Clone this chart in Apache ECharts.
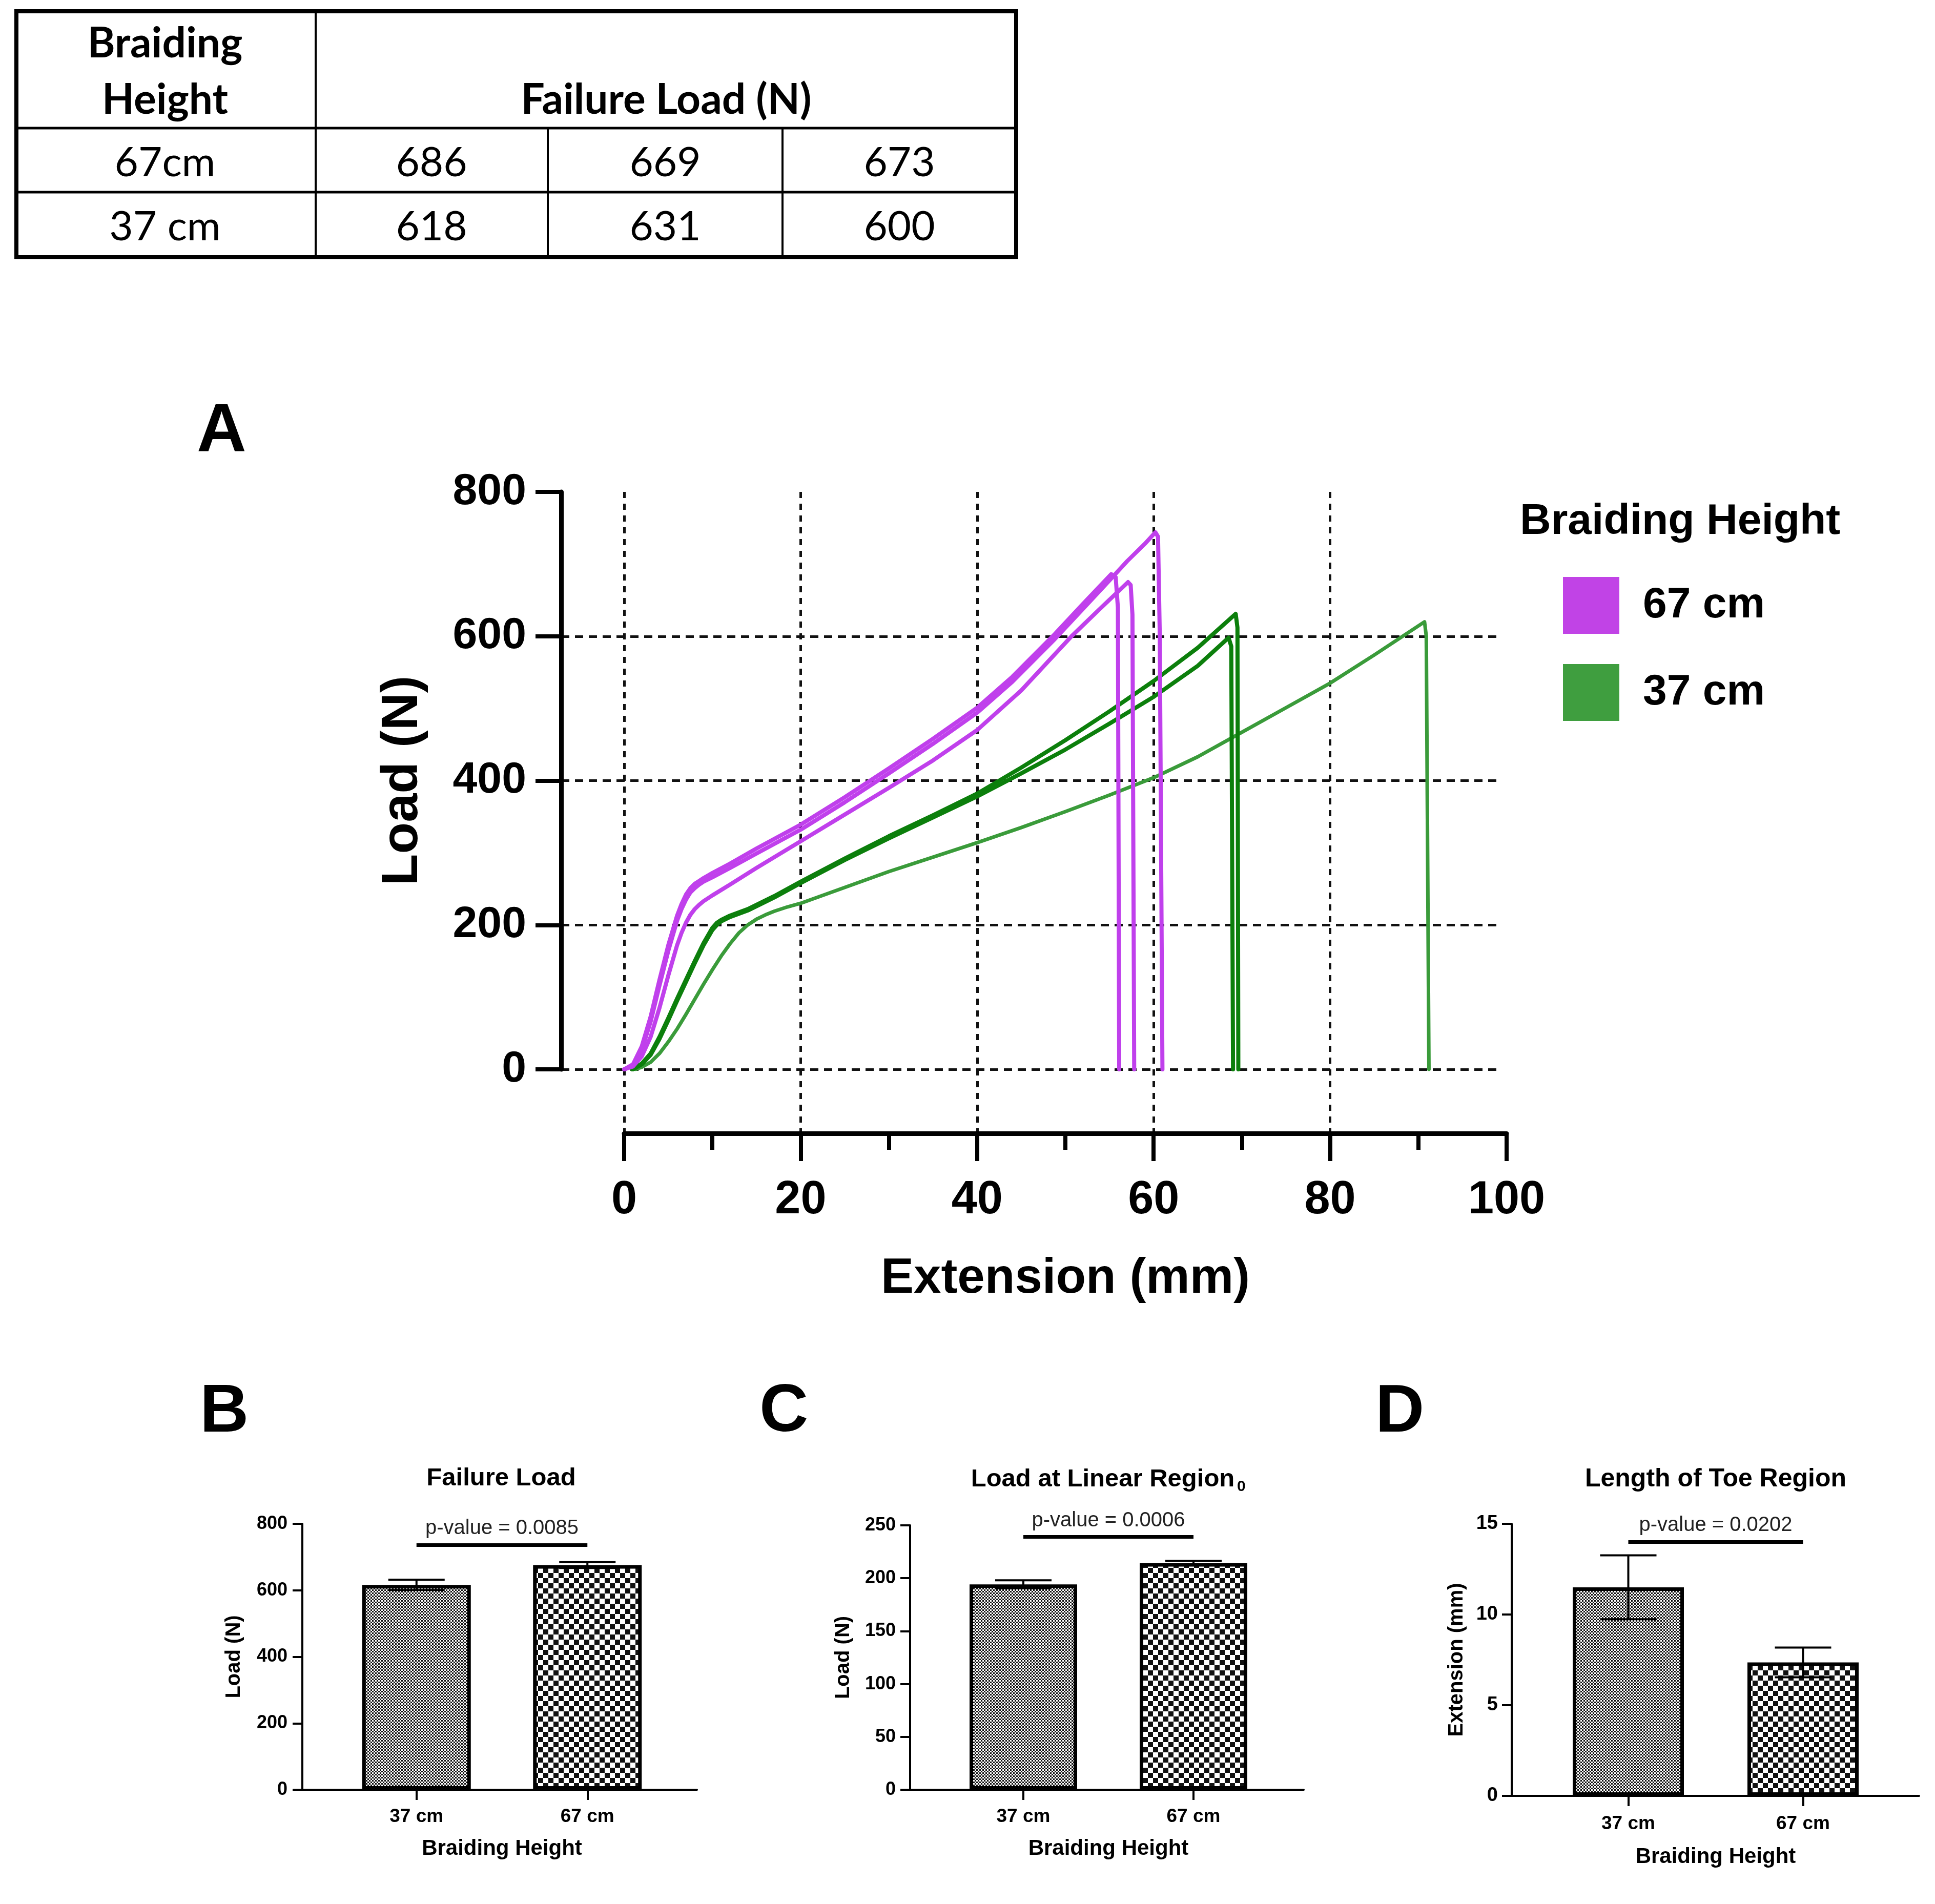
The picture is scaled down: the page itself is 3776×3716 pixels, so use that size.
<!DOCTYPE html>
<html>
<head>
<meta charset="utf-8">
<title>Braiding height - failure load</title>
<script src="https://cdn.jsdelivr.net/npm/echarts@6/dist/echarts.min.js"></script>
<style>
  html, body { margin: 0; padding: 0; background: #fff; }
  #chart { width: 3776px; height: 3716px; }
</style>
</head>
<body>
<div id="chart"></div>
<script>
// ---- table (failure load, N) ----
const tableRows = ['67cm', '37 cm'];
const failure67 = [686, 669, 673];
const failure37 = [618, 631, 600];

// ---- panel A: load vs extension curves [mm, N] ----
const curve67a = [[0,0],[1,5],[2,27],[3,66],[4,116],[5,164],[6,206],[6.5,222],[7,235],[7.5,245],[8,251],[8.5,256],[9,260],[10,266],[12,279],[15,299],[20,332],[25,370],[30,410],[35,451],[40,494],[44,537],[48.8,596],[52,638],[55.2,680],[57,704],[59,728],[60.2,744],[60.5,738],[60.7,600],[61.0,0]];
const curve67b = [[0,0],[1,7],[2,32],[3,73],[4,124],[5,172],[6,213],[6.5,229],[7,242],[7.5,251],[8,257],[8.5,261],[9,265],[10,272],[12,285],[15,306],[20,339],[25,377],[30,417],[35,458],[40,501],[44,544],[48.8,603],[52,645],[55.2,686],[55.7,682],[55.95,640],[56.1,0]];
const curve67c = [[0,0],[1,4],[2,18],[3,45],[4,85],[5,130],[6,172],[6.5,189],[7,203],[7.5,214],[8,222],[8.5,228],[9,233],[10,241],[12,256],[15,279],[20,316],[25,353],[30,390],[35,428],[40,470],[45,525],[50.7,600],[54,639],[57.1,675],[57.4,671],[57.6,630],[57.8,0]];
const curve37a = [[0.9,0],[2,8],[3,22],[4,45],[5,71],[6,98],[7,124],[8,150],[9,175],[10,196],[10.5,203],[11,207],[12,213],[14,222],[17,240],[20,260],[25,292],[30,323],[35,352],[40,382],[45,418],[50,456],[55,496],[60,538],[65,584],[69.3,631],[69.5,612],[69.6,0]];
const curve37b = [[1.0,0],[2,7],[3,20],[4,42],[5,68],[6,95],[7,121],[8,147],[9,172],[10,193],[10.5,200],[11,205],[12,211],[14,220],[17,238],[20,258],[25,290],[30,320],[35,349],[40,378],[45,410],[50,443],[55,479],[60,516],[65,559],[68.5,598],[68.8,586],[69.0,0]];
const curve37c = [[1.3,0],[2,3],[3,10],[4,22],[5,38],[6,56],[7,76],[8,97],[9,118],[10,138],[11,157],[12,174],[13,189],[14,200],[15,208],[16,214],[17,219],[18.5,225],[20,230],[25,252],[30,274],[35,294],[40,314],[45,335],[50,357],[55,380],[60,404],[65,433],[70,467],[75,501],[80,535],[85,574],[90.7,620],[90.9,600],[91.2,0]];

// ---- panels B-D ----
const barCats = ['37 cm', '67 cm'];
const linearLoad = [194.2, 214.4];
const linearSd = [3.8, 2.1];
const toeLength = [11.5, 7.36];
const toeSd = [1.76, 0.82];
const pTexts = ['p-value = 0.0085', 'p-value = 0.0006', 'p-value = 0.0202'];
const pLevels = [737, 239, 14];

const FONT = 'Liberation Sans';
const TFONT = 'Lato';
const BLACK = '#000';
const PURPLE = '#c040ec';
const DKGREEN = '#0c7f0c';
const LTGREEN = '#3a9b3a';

const mean = a => a.reduce((s, v) => s + v, 0) / a.length;
const sd = a => { const m = mean(a); return Math.sqrt(a.reduce((s, v) => s + (v - m) * (v - m), 0) / (a.length - 1)); };
const failMean = [mean(failure37), mean(failure67)];
const failSd = [sd(failure37), sd(failure67)];

// checker fills for the bars
function checker(cell) {
    const c = document.createElement('canvas');
    c.width = c.height = cell * 2;
    const ctx = c.getContext('2d');
    ctx.fillStyle = '#fff';
    ctx.fillRect(0, 0, cell * 2, cell * 2);
    ctx.fillStyle = '#111';
    ctx.fillRect(0, 0, cell, cell);
    ctx.fillRect(cell, cell, cell, cell);
    return c;
}
const fineFill = { image: checker(3), repeat: 'repeat' };
const coarseFill = { image: checker(10), repeat: 'repeat' };

const chart = echarts.init(document.getElementById('chart'), null, { renderer: 'canvas' });

const grids = [
    { left: 1218, top: 960, width: 1722, height: 1127 },   // A data
    { left: 1095, top: 960, width: 1829, height: 1127 },   // A horizontal dashes
    { left: 1218, top: 960, width: 1722, height: 1252 },   // A vertical dashes
    { left: 590, top: 2974, width: 770, height: 519 },     // B frame
    { left: 646, top: 2974, width: 667, height: 519 },     // B bars
    { left: 1776, top: 2977, width: 768, height: 516 },    // C frame
    { left: 1831, top: 2977, width: 664, height: 516 },    // C bars
    { left: 2950, top: 2974, width: 795, height: 531 },    // D frame
    { left: 3007, top: 2974, width: 682, height: 531 }     // D bars
];

const hidden = { axisLine: { show: false }, axisTick: { show: false }, axisLabel: { show: false }, splitLine: { show: false } };
const boldText = (size) => ({ fontFamily: FONT, fontWeight: 'bold', fontSize: size, color: BLACK });

const xAxes = [
    {
        gridIndex: 0, type: 'value', min: 0, max: 100, interval: 20, offset: 125,
        axisLine: { show: true, onZero: false, lineStyle: { color: BLACK, width: 9 } },
        axisTick: { show: true, length: 54, lineStyle: { color: BLACK, width: 8 } },
        minorTick: { show: true, splitNumber: 2, length: 32, lineStyle: { color: BLACK, width: 8 } },
        axisLabel: Object.assign(boldText(90), { margin: 86 }),
        splitLine: { show: false },
        name: 'Extension (mm)', nameLocation: 'middle', nameGap: 237, nameTextStyle: boldText(96)
    },
    Object.assign({ gridIndex: 1, type: 'value', min: 0, max: 1 }, hidden),
    Object.assign({ gridIndex: 2, type: 'value', min: 0, max: 100, interval: 20 }, hidden, {
        splitLine: { show: true, showMaxLine: false, lineStyle: { color: '#111', width: 5, type: [12, 11] } }
    })
];
const yAxes = [
    {
        gridIndex: 0, type: 'value', min: 0, max: 800, interval: 200, offset: 123,
        axisLine: { show: true, onZero: false, lineStyle: { color: BLACK, width: 9 } },
        axisTick: { show: true, length: 50, lineStyle: { color: BLACK, width: 8 } },
        axisLabel: Object.assign(boldText(86), { margin: 68 }),
        splitLine: { show: false },
        name: 'Load (N)', nameLocation: 'middle', nameRotate: 90, nameGap: 258, nameTextStyle: boldText(101)
    },
    Object.assign({ gridIndex: 1, type: 'value', min: 0, max: 800, interval: 200 }, hidden, {
        splitLine: { show: true, showMaxLine: false, lineStyle: { color: '#111', width: 5, type: [16, 11] } }
    }),
    Object.assign({ gridIndex: 2, type: 'value', min: 0, max: 1 }, hidden)
];

// bar panels: frame grid + bar grid
const panels = [
    { frame: 3, max: 800, interval: 200, yName: 'Load (N)', yGap: 113, yLabelMargin: 29, yLabel: 36, xGap: 94, xMargin: 34, barWidth: 212, values: failMean, errs: failSd },
    { frame: 5, max: 250, interval: 50, yName: 'Load (N)', yGap: 110, yLabelMargin: 28, yLabel: 36, xGap: 94, xMargin: 34, barWidth: 210, values: linearLoad, errs: linearSd },
    { frame: 7, max: 15, interval: 5, yName: 'Extension (mm)', yGap: 87, yLabelMargin: 27, yLabel: 38, xGap: 98, xMargin: 36, barWidth: 217, values: toeLength, errs: toeSd }
];

const series = [];

panels.forEach((p, k) => {
    const b = p.frame + 1;
    xAxes.push(Object.assign({ gridIndex: p.frame, type: 'value', min: 0, max: 1 }, hidden, {
        axisLine: { show: true, onZero: false, lineStyle: { color: BLACK, width: 4 } }
    }));
    yAxes.push({
        gridIndex: p.frame, type: 'value', min: 0, max: p.max, interval: p.interval,
        axisLine: { show: true, onZero: false, lineStyle: { color: BLACK, width: 4 } },
        axisTick: { show: true, length: 19, lineStyle: { color: BLACK, width: 4 } },
        axisLabel: Object.assign(boldText(p.yLabel), { margin: p.yLabelMargin }),
        splitLine: { show: false },
        name: p.yName, nameLocation: 'middle', nameRotate: 90, nameGap: p.yGap, nameTextStyle: boldText(40)
    });
    xAxes.push({
        gridIndex: b, type: 'category', data: barCats,
        axisLine: { show: false },
        axisTick: { show: true, alignWithLabel: true, length: 20, lineStyle: { color: BLACK, width: 4 } },
        axisLabel: Object.assign(boldText(37), { margin: p.xMargin }),
        splitLine: { show: false },
        name: 'Braiding Height', nameLocation: 'middle', nameGap: p.xGap, nameTextStyle: boldText(42)
    });
    yAxes.push(Object.assign({ gridIndex: b, type: 'value', min: 0, max: p.max }, hidden));

    series.push({
        type: 'bar', xAxisIndex: b, yAxisIndex: b, barWidth: p.barWidth,
        data: p.values.map((v, i) => ({ value: v, itemStyle: { color: i === 0 ? fineFill : coarseFill } })),
        itemStyle: { borderColor: BLACK, borderWidth: 7 },
        markLine: {
            silent: true, symbol: ['none', 'none'],
            lineStyle: { color: BLACK, width: 7, type: 'solid' },
            label: { show: true, position: 'insideMiddleTop', distance: 12, formatter: pTexts[k], fontFamily: FONT, fontSize: 40, color: '#222' },
            data: [[{ coord: [barCats[0], pLevels[k]] }, { coord: [barCats[1], pLevels[k]] }]]
        },
        z: 2
    });
    series.push({
        type: 'custom', xAxisIndex: b, yAxisIndex: b, z: 5,
        data: p.values.map((v, i) => [i, v - p.errs[i], v + p.errs[i]]),
        encode: { x: 0, y: [1, 2] },
        renderItem: (params, api) => {
            const top = api.coord([api.value(0), api.value(2)]);
            const bot = api.coord([api.value(0), api.value(1)]);
            const half = 55;
            const st = { stroke: BLACK, lineWidth: 4 };
            return {
                type: 'group', children: [
                    { type: 'line', shape: { x1: top[0], y1: top[1], x2: bot[0], y2: bot[1] }, style: st },
                    { type: 'line', shape: { x1: top[0] - half, y1: top[1], x2: top[0] + half, y2: top[1] }, style: st },
                    { type: 'line', shape: { x1: bot[0] - half, y1: bot[1], x2: bot[0] + half, y2: bot[1] }, style: st }
                ]
            };
        }
    });
});

const curves = [
    { name: '37 cm', data: curve37c, color: LTGREEN, width: 7 },
    { name: '37 cm', data: curve37b, color: DKGREEN, width: 8 },
    { name: '37 cm', data: curve37a, color: DKGREEN, width: 8 },
    { name: '67 cm', data: curve67c, color: PURPLE, width: 8 },
    { name: '67 cm', data: curve67a, color: PURPLE, width: 8 },
    { name: '67 cm', data: curve67b, color: PURPLE, width: 8 }
];
curves.forEach(c => {
    series.push({
        type: 'line', name: c.name, xAxisIndex: 0, yAxisIndex: 0, data: c.data,
        showSymbol: false, symbol: 'none', smooth: false,
        lineStyle: { color: c.color, width: c.width, join: 'round', cap: 'round' }, itemStyle: { color: c.color }, z: 3
    });
});

// ---- text + table drawn as graphics ----
const txt = (text, x, y, size, opt) => Object.assign({
    type: 'text', x: x, y: y,
    style: Object.assign({ text: text, fontFamily: FONT, fontSize: size, fontWeight: 'bold', fill: BLACK, align: 'left', verticalAlign: 'middle' }, opt || {})
});
const hline = (x1, x2, y, w) => ({ type: 'line', shape: { x1: x1, y1: y, x2: x2, y2: y }, style: { stroke: BLACK, lineWidth: w } });
const vline = (x, y1, y2, w) => ({ type: 'line', shape: { x1: x, y1: y1, x2: x, y2: y2 }, style: { stroke: BLACK, lineWidth: w } });

const colCenters = [842, 1298, 1755];
const rowCenters = [318, 443];
const graphics = [
    { type: 'rect', shape: { x: 32, y: 22, width: 1951, height: 480 }, style: { fill: 'none', stroke: BLACK, lineWidth: 8 } },
    hline(32, 1983, 250, 5),
    hline(32, 1983, 375, 5),
    vline(616, 22, 502, 4),
    vline(1069, 250, 502, 4),
    vline(1527, 250, 502, 4),
    txt('Braiding', 322, 86, 82, { fontFamily: TFONT, align: 'center' }),
    txt('Height', 322, 196, 82, { fontFamily: TFONT, align: 'center' }),
    txt('Failure Load (N)', 1300, 196, 82, { fontFamily: TFONT, align: 'center' }),
    // panel letters
    txt('A', 384, 844, 134),
    txt('B', 390, 2758, 132),
    txt('C', 1482, 2757, 132),
    txt('D', 2684, 2758, 132),
    // legend title
    txt('Braiding Height', 2966, 1019, 84),
    // bar chart titles
    txt('Failure Load', 978, 2885, 49, { align: 'center' }),
    txt('Load at Linear Region', 2152, 2887, 49, { align: 'center' }),
    txt('0', 2414, 2902, 30),
    txt('Length of Toe Region', 3348, 2887, 50, { align: 'center' })
];
[failure67, failure37].forEach((row, r) => {
    graphics.push(txt(tableRows[r], 322, rowCenters[r], 80, { fontFamily: TFONT, fontWeight: 'normal', align: 'center' }));
    row.forEach((v, c) => {
        graphics.push(txt(String(v), colCenters[c], rowCenters[r], 80, { fontFamily: TFONT, fontWeight: 'normal', align: 'center' }));
    });
});

chart.setOption({
    backgroundColor: '#fff',
    animation: false,
    grid: grids,
    xAxis: xAxes,
    yAxis: yAxes,
    legend: {
        orient: 'vertical', left: 3050, top: 1126, padding: 0,
        icon: 'rect', itemWidth: 110, itemHeight: 111, itemGap: 59,
        selectedMode: false,
        textStyle: { fontFamily: FONT, fontWeight: 'bold', fontSize: 84, color: BLACK, padding: [10, 0, 0, 41] },
        data: [
            { name: '67 cm', itemStyle: { color: '#c143e6', borderWidth: 0 } },
            { name: '37 cm', itemStyle: { color: '#3f9e3f', borderWidth: 0 } }
        ]
    },
    graphic: { elements: graphics },
    series: series
});
</script>
</body>
</html>
